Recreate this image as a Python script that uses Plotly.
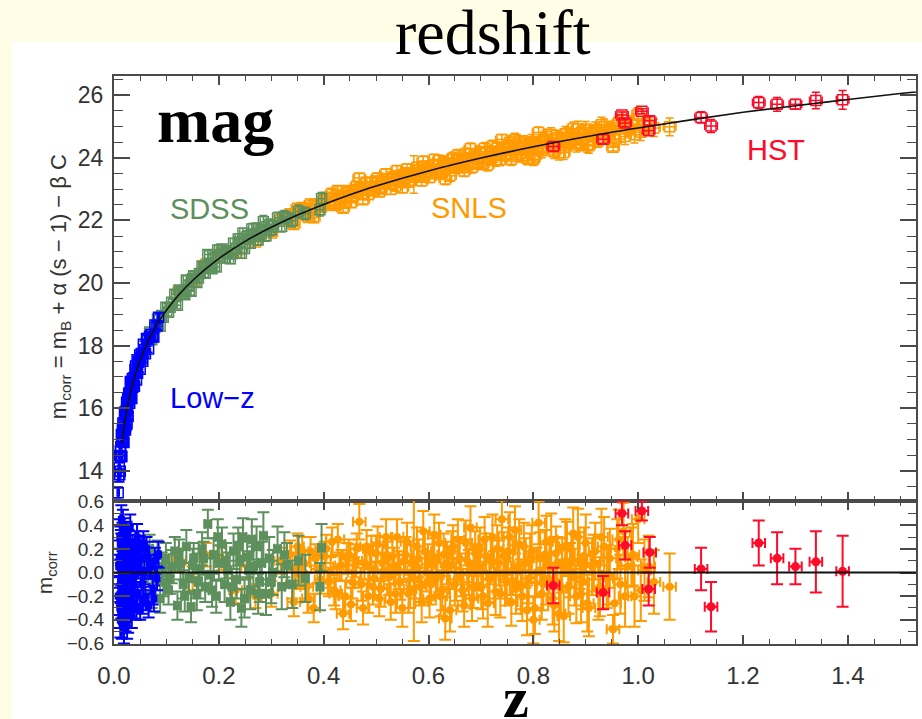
import numpy as np
import plotly.graph_objects as go

# ---------------------------------------------------------------
# Best-fit model curve m_corr(z)
# ---------------------------------------------------------------
model_z = [0.008, 0.009, 0.010, 0.012, 0.015, 0.020, 0.030, 0.040, 0.050, 0.060,
           0.070, 0.080, 0.090, 0.100, 0.125, 0.150, 0.175, 0.200, 0.250, 0.300,
           0.350, 0.400, 0.450, 0.500, 0.600, 0.700, 0.800, 0.900, 1.000, 1.100,
           1.200, 1.300, 1.400, 1.500, 1.600]
model_mag = [13.50, 13.76, 13.99, 14.39, 14.88, 15.51, 16.41, 17.05, 17.55, 17.96,
             18.31, 18.62, 18.89, 19.13, 19.65, 20.08, 20.45, 20.78, 21.33, 21.78,
             22.17, 22.51, 22.82, 23.10, 23.58, 23.99, 24.35, 24.67, 24.95, 25.21,
             25.45, 25.66, 25.86, 26.05, 26.21]
FIT_ZMIN = 0.015

# ---------------------------------------------------------------
# Supernova samples: redshift, Hubble residual, magnitude error
# ---------------------------------------------------------------
lowz_z = [0.009, 0.010, 0.011, 0.012, 0.013, 0.014, 0.015, 0.015, 0.016, 0.017,
          0.018, 0.019, 0.020, 0.021, 0.022, 0.023, 0.024, 0.025, 0.026, 0.027,
          0.028, 0.029, 0.030, 0.031, 0.032, 0.033, 0.034, 0.035, 0.036, 0.038,
          0.039, 0.040, 0.042, 0.044, 0.045, 0.047, 0.049, 0.050, 0.052, 0.054,
          0.056, 0.058, 0.060, 0.063, 0.066, 0.070, 0.074, 0.078, 0.082,
          0.008, 0.011, 0.012, 0.013, 0.014, 0.016, 0.017, 0.018, 0.019, 0.020,
          0.021, 0.022, 0.023, 0.024, 0.025, 0.026, 0.028, 0.030, 0.032, 0.034,
          0.037, 0.041, 0.043, 0.046, 0.051, 0.055, 0.062, 0.068, 0.076, 0.085]
lowz_dm = [0.05, 0.12, -0.30, 0.25, -0.10, 0.45, 0.05, -0.42, 0.30, -0.20,
           0.10, -0.48, 0.35, -0.05, 0.20, -0.33, 0.08, -0.15, 0.28, -0.40,
           0.02, 0.15, -0.25, 0.38, -0.08, 0.10, -0.35, 0.22, -0.12, 0.05,
           -0.28, 0.18, -0.02, 0.30, -0.18, 0.08, 0.20, -0.30, 0.12, -0.10,
           0.25, 0.00, -0.22, 0.15, -0.28, 0.05, -0.15, 0.10, -0.05,
           -0.20, 0.30, -0.40, 0.22, -0.25, -0.05, 0.40, -0.30, 0.15, -0.20,
           0.28, -0.38, 0.12, 0.32, -0.45, -0.02, 0.25, 0.08, -0.20, 0.15,
           -0.10, 0.25, -0.30, 0.12, 0.02, -0.25, 0.20, 0.05, -0.22, 0.15]
lowz_err = [0.15, 0.15, 0.17, 0.14, 0.16, 0.12, 0.15, 0.14, 0.12, 0.13,
            0.14, 0.12, 0.11, 0.13, 0.12, 0.12, 0.11, 0.12, 0.12, 0.11,
            0.12, 0.11, 0.12, 0.11, 0.10, 0.11, 0.12, 0.10, 0.11, 0.10,
            0.11, 0.10, 0.10, 0.11, 0.10, 0.10, 0.11, 0.10, 0.10, 0.11,
            0.10, 0.10, 0.10, 0.11, 0.10, 0.10, 0.12, 0.11, 0.10,
            0.16, 0.15, 0.15, 0.14, 0.14, 0.13, 0.13, 0.13, 0.12, 0.12,
            0.12, 0.12, 0.12, 0.11, 0.11, 0.11, 0.11, 0.11, 0.11, 0.10,
            0.10, 0.10, 0.10, 0.10, 0.10, 0.10, 0.10, 0.10, 0.11, 0.11]

sdss_z = [0.058, 0.065, 0.072, 0.078, 0.083, 0.088, 0.094, 0.099, 0.104, 0.110,
          0.116, 0.121, 0.127, 0.132, 0.138, 0.143, 0.147, 0.152, 0.158, 0.163,
          0.168, 0.174, 0.179, 0.184, 0.190, 0.195, 0.200, 0.206, 0.211, 0.217,
          0.222, 0.228, 0.234, 0.240, 0.246, 0.249, 0.254, 0.260, 0.266, 0.272,
          0.278, 0.285, 0.290, 0.296, 0.303, 0.312, 0.320, 0.330, 0.340, 0.352,
          0.365, 0.393, 0.396,
          0.068, 0.091, 0.107, 0.124, 0.135, 0.150, 0.161, 0.171, 0.187, 0.198,
          0.214, 0.225, 0.237, 0.243, 0.257, 0.263, 0.275, 0.282, 0.300, 0.325]
sdss_dm = [-0.05, 0.10, -0.18, 0.02, 0.15, -0.22, -0.08, 0.12, -0.15, 0.05,
           0.18, -0.28, 0.07, -0.10, 0.22, -0.05, -0.29, 0.12, -0.18, 0.03,
           0.20, -0.12, 0.41, -0.02, 0.15, -0.20, 0.08, 0.24, -0.10, 0.02,
           -0.25, 0.18, -0.06, 0.10, 0.30, -0.22, 0.13, -0.15, 0.05, 0.22,
           -0.08, 0.31, -0.18, 0.12, 0.00, 0.20, -0.12, 0.06, -0.10, 0.10,
           -0.05, -0.12, 0.21,
           0.20, 0.05, -0.05, 0.15, -0.20, 0.06, -0.08, 0.12, -0.15, 0.30,
           0.10, -0.12, 0.22, -0.30, 0.02, 0.28, -0.18, 0.08, -0.08, 0.15]
sdss_err = [0.12, 0.12, 0.12, 0.11, 0.12, 0.12, 0.12, 0.13, 0.12, 0.14,
            0.12, 0.12, 0.13, 0.12, 0.14, 0.13, 0.13, 0.13, 0.14, 0.13,
            0.14, 0.13, 0.12, 0.14, 0.14, 0.14, 0.15, 0.14, 0.15, 0.15,
            0.15, 0.15, 0.16, 0.16, 0.16, 0.16, 0.17, 0.16, 0.17, 0.17,
            0.17, 0.20, 0.18, 0.18, 0.19, 0.19, 0.19, 0.19, 0.20, 0.21,
            0.20, 0.20, 0.20,
            0.12, 0.12, 0.13, 0.13, 0.13, 0.14, 0.14, 0.14, 0.14, 0.15,
            0.15, 0.15, 0.16, 0.16, 0.16, 0.17, 0.17, 0.18, 0.18, 0.19]

snls_z = [0.125, 0.150, 0.175, 0.205, 0.232, 0.255, 0.270, 0.300, 0.318, 0.336,
          0.343, 0.350, 0.356, 0.362, 0.368, 0.375, 0.381, 0.388, 0.402, 0.410,
          0.416, 0.423, 0.430, 0.437, 0.444, 0.452, 0.458, 0.463, 0.468, 0.472,
          0.478, 0.485, 0.491, 0.497, 0.503, 0.509, 0.515, 0.522, 0.528, 0.534,
          0.540, 0.546, 0.550, 0.556, 0.562, 0.567, 0.572, 0.578, 0.584, 0.590,
          0.596, 0.602, 0.608, 0.614, 0.620, 0.626, 0.632, 0.638, 0.644, 0.650,
          0.656, 0.662, 0.668, 0.674, 0.680, 0.686, 0.692, 0.698, 0.704, 0.710,
          0.716, 0.722, 0.728, 0.734, 0.740, 0.746, 0.752, 0.758, 0.765, 0.770,
          0.776, 0.782, 0.788, 0.794, 0.800, 0.806, 0.810, 0.816, 0.822, 0.828,
          0.834, 0.840, 0.846, 0.852, 0.858, 0.864, 0.870, 0.876, 0.882, 0.888,
          0.894, 0.900, 0.906, 0.912, 0.918, 0.924, 0.930, 0.940, 0.946, 0.952,
          0.955, 0.960, 0.966, 0.972, 0.980, 0.987, 0.993, 1.000, 1.012, 1.030,
          1.060,
          0.340, 0.347, 0.359, 0.371, 0.384, 0.395, 0.405, 0.413, 0.420, 0.427,
          0.434, 0.441, 0.448, 0.455, 0.461, 0.475, 0.482, 0.488, 0.494, 0.500,
          0.506, 0.512, 0.519, 0.525, 0.531, 0.537, 0.543, 0.553, 0.559, 0.565,
          0.575, 0.581, 0.587, 0.593, 0.599, 0.605, 0.611, 0.617, 0.623, 0.629,
          0.635, 0.641, 0.647, 0.653, 0.659, 0.665, 0.671, 0.677, 0.683, 0.689,
          0.695, 0.701, 0.707, 0.713, 0.719, 0.725, 0.731, 0.737, 0.743, 0.749,
          0.755, 0.761, 0.767, 0.773, 0.779, 0.785, 0.791, 0.797, 0.803, 0.813,
          0.819, 0.825, 0.831, 0.837, 0.843, 0.849, 0.855, 0.861, 0.867, 0.873,
          0.879, 0.885, 0.891, 0.897, 0.903, 0.915, 0.927, 0.935, 0.943, 0.963,
          0.975, 0.990, 1.005, 1.020]
snls_dm = [0.10, -0.05, 0.15, 0.12, -0.15, 0.05, -0.20, -0.18, 0.10, 0.15,
           -0.25, 0.22, -0.02, 0.08, -0.12, 0.18, -0.30, 0.03, 0.14, -0.08,
           0.26, -0.18, 0.05, -0.35, 0.12, -0.27, 0.00, 0.20, 0.43, -0.10,
           0.08, -0.20, 0.17, -0.05, 0.24, -0.14, 0.02, 0.12, -0.25, 0.06,
           0.30, -0.08, -0.30, 0.15, -0.18, 0.08, 0.02, 0.22, -0.12, 0.35,
           0.00, -0.22, 0.12, -0.05, 0.25, -0.15, -0.39, 0.05, 0.18, -0.10,
           0.28, -0.02, -0.28, 0.10, 0.38, -0.12, 0.04, 0.20, -0.20, 0.14,
           -0.06, 0.30, -0.16, 0.08, 0.45, -0.02, 0.18, -0.25, 0.36, 0.05,
           -0.10, 0.22, -0.32, 0.12, -0.40, 0.00, 0.42, -0.18, 0.15, -0.05,
           0.28, -0.28, 0.08, -0.12, -0.37, 0.20, 0.02, 0.33, -0.20, 0.10,
           -0.08, 0.25, -0.30, 0.05, 0.18, -0.15, 0.30, -0.05, 0.12, -0.48,
           -0.26, 0.20, -0.10, 0.35, 0.05, 0.13, -0.20, 0.45, 0.02, -0.08,
           -0.12,
           -0.10, 0.05, 0.18, -0.22, 0.12, -0.06, 0.20, 0.00, -0.15, 0.28,
           0.06, -0.20, 0.15, -0.08, 0.10, -0.30, 0.22, 0.04, -0.12, 0.16,
           -0.22, 0.08, 0.30, -0.04, 0.14, -0.18, 0.02, 0.10, 0.26, -0.14,
           -0.06, 0.12, -0.25, 0.18, 0.07, -0.10, 0.32, -0.02, -0.20, 0.15,
           0.08, -0.32, 0.22, -0.06, 0.12, -0.15, 0.25, 0.00, -0.22, 0.16,
           0.05, -0.12, 0.28, -0.26, 0.10, -0.02, 0.20, -0.18, 0.14, -0.08,
           0.30, 0.02, -0.14, 0.24, -0.20, 0.08, -0.05, 0.18, -0.30, 0.12,
           -0.10, 0.26, 0.04, -0.22, 0.16, -0.35, 0.06, 0.22, -0.12, 0.10,
           -0.04, 0.30, -0.18, 0.14, -0.26, 0.08, -0.12, 0.22, -0.02, 0.28,
           -0.20, 0.15, -0.15, 0.05]
snls_err = [0.10, 0.10, 0.10, 0.10, 0.11, 0.10, 0.10, 0.11, 0.11, 0.12,
            0.12, 0.11, 0.12, 0.11, 0.12, 0.12, 0.12, 0.12, 0.12, 0.12,
            0.12, 0.13, 0.12, 0.13, 0.13, 0.14, 0.13, 0.13, 0.15, 0.14,
            0.14, 0.14, 0.14, 0.14, 0.15, 0.15, 0.15, 0.14, 0.15, 0.15,
            0.15, 0.15, 0.16, 0.15, 0.16, 0.15, 0.60, 0.16, 0.16, 0.17,
            0.16, 0.16, 0.17, 0.16, 0.17, 0.17, 0.18, 0.17, 0.17, 0.18,
            0.17, 0.18, 0.18, 0.18, 0.18, 0.18, 0.19, 0.18, 0.19, 0.19,
            0.19, 0.19, 0.20, 0.19, 0.16, 0.20, 0.20, 0.20, 0.20, 0.20,
            0.21, 0.20, 0.21, 0.21, 0.20, 0.21, 0.18, 0.22, 0.21, 0.22,
            0.22, 0.22, 0.22, 0.23, 0.22, 0.23, 0.23, 0.22, 0.23, 0.24,
            0.23, 0.24, 0.24, 0.24, 0.24, 0.25, 0.24, 0.25, 0.25, 0.12,
            0.20, 0.25, 0.25, 0.24, 0.25, 0.25, 0.26, 0.20, 0.26, 0.27,
            0.28,
            0.12, 0.12, 0.12, 0.12, 0.12, 0.12, 0.12, 0.13, 0.13, 0.13,
            0.13, 0.13, 0.13, 0.14, 0.14, 0.14, 0.14, 0.14, 0.15, 0.15,
            0.15, 0.15, 0.15, 0.15, 0.15, 0.16, 0.16, 0.16, 0.16, 0.16,
            0.16, 0.16, 0.17, 0.17, 0.17, 0.17, 0.17, 0.17, 0.17, 0.18,
            0.18, 0.18, 0.18, 0.18, 0.18, 0.18, 0.19, 0.19, 0.19, 0.19,
            0.19, 0.19, 0.19, 0.20, 0.20, 0.20, 0.20, 0.20, 0.20, 0.20,
            0.21, 0.21, 0.21, 0.21, 0.21, 0.21, 0.21, 0.22, 0.22, 0.22,
            0.22, 0.22, 0.22, 0.22, 0.23, 0.23, 0.23, 0.23, 0.23, 0.23,
            0.24, 0.24, 0.24, 0.24, 0.24, 0.24, 0.25, 0.25, 0.25, 0.25,
            0.26, 0.26, 0.26, 0.26]

hst_z = [0.838, 0.933, 0.969, 0.975, 1.007, 1.022, 1.020, 1.120, 1.139, 1.230,
         1.265, 1.300, 1.339, 1.390]
hst_dm = [-0.11, -0.17, 0.50, 0.23, 0.52, 0.17, -0.14, 0.03, -0.29, 0.25,
          0.12, 0.05, 0.09, 0.01]
hst_err = [0.15, 0.14, 0.10, 0.12, 0.08, 0.13, 0.14, 0.18, 0.21, 0.19,
           0.22, 0.15, 0.26, 0.30]

# redshift uncertainties per sample
LOWZ_ZERR, SDSS_ZERR, SNLS_ZERR, HST_ZERR = 0.002, 0.006, 0.012, 0.012

# ---------------------------------------------------------------
# Styling
# ---------------------------------------------------------------
W, H = 922, 719
ML, MR, MT, MB = 114, 4, 76, 75
PLOT_W, PLOT_H = W - ML - MR, H - MT - MB
SPLIT = (644 - 501) / PLOT_H          # bottom/top panel boundary (paper)

SANS = "Liberation Sans, Arial, sans-serif"
SERIF = "Liberation Serif, Times New Roman, serif"
AXIS_COL = "#4a4a4a"
TEXT_COL = "#333333"

samples = [
    # name, z, dm, err, zerr, colour, lower-panel symbol, size
    ("SNLS", snls_z, snls_dm, snls_err, SNLS_ZERR, "#ff9a00", "circle", 8),
    ("SDSS", sdss_z, sdss_dm, sdss_err, SDSS_ZERR, "#5d905d", "square", 9),
    ("Low-z", lowz_z, lowz_dm, lowz_err, LOWZ_ZERR, "#0000ff", "square", 7),
    ("HST", hst_z, hst_dm, hst_err, HST_ZERR, "#ff0a28", "circle", 9),
]


def px(x):
    return (x - ML) / PLOT_W


def py(y):
    return (H - MB - y) / PLOT_H


fig = go.Figure()

mz = np.array(model_z)
mm = np.array(model_mag)

for name, z, dm, err, zerr, col, sym, size in samples:
    z = np.array(z)
    dm = np.array(dm)
    mag = np.interp(z, mz, mm) + dm          # corrected magnitude = model + residual
    # upper panel: open squares with error bars
    fig.add_trace(go.Scatter(
        x=z, y=mag, mode="markers", name=name, xaxis="x", yaxis="y",
        marker=dict(symbol="square-open", size=10, color=col, line=dict(width=1.5, color=col)),
        error_y=dict(type="data", array=err, color=col, thickness=1.5, width=4),
        error_x=dict(type="data", array=[zerr] * len(z), color=col, thickness=1.5, width=4),
        showlegend=False, hoverinfo="skip"))
    # lower panel: filled markers with error bars
    fig.add_trace(go.Scatter(
        x=z, y=dm, mode="markers", name=name, xaxis="x2", yaxis="y2",
        marker=dict(symbol=sym, size=size, color=col),
        error_y=dict(type="data", array=err, color=col, thickness=2, width=6),
        error_x=dict(type="data", array=[zerr] * len(z), color=col, thickness=2, width=5),
        showlegend=False, hoverinfo="skip"))

# best-fit curve on top of the points
fit = mz >= FIT_ZMIN
fig.add_trace(go.Scatter(
    x=mz[fit], y=mm[fit], mode="lines", xaxis="x", yaxis="y",
    line=dict(color="#111111", width=1.6, shape="spline"),
    showlegend=False, hoverinfo="skip"))

# zero line in the residual panel
fig.add_shape(type="line", xref="x2 domain", yref="y2", x0=0, x1=1, y0=0, y1=0,
              line=dict(color="#111111", width=1.8))

# white slide panel behind the chart
fig.add_shape(type="rect", xref="paper", yref="paper", layer="below",
              x0=px(12), x1=px(W + 5), y0=py(H + 5), y1=py(42),
              fillcolor="white", line=dict(width=0))

common_x = dict(range=[0, 1.53], dtick=0.2, tick0=0, ticks="inside", ticklen=9,
                tickwidth=1.6, tickcolor=AXIS_COL, showline=True, linewidth=2,
                linecolor=AXIS_COL, mirror="ticks", showgrid=False, zeroline=False,
                minor=dict(dtick=0.05, ticks="inside", ticklen=5, tickwidth=1.3,
                           tickcolor=AXIS_COL))

fig.update_layout(
    width=W, height=H,
    margin=dict(l=ML, r=MR, t=MT, b=MB),
    paper_bgcolor="#fffde6", plot_bgcolor="white",
    xaxis=dict(common_x, domain=[0, 1], anchor="y", showticklabels=False, matches="x2"),
    xaxis2=dict(common_x, domain=[0, 1], anchor="y2", showticklabels=True,
                tickformat=".1f", ticklabelstandoff=9,
                tickfont=dict(family=SANS, size=24, color=TEXT_COL)),
    yaxis=dict(domain=[SPLIT, 1], anchor="x", range=[13.04, 26.61], dtick=2, tick0=0,
               ticks="inside", ticklen=16, tickwidth=1.6, tickcolor=AXIS_COL,
               showline=True, linewidth=2, linecolor=AXIS_COL, mirror="ticks",
               showgrid=False, zeroline=False, ticklabelstandoff=4,
               tickfont=dict(family=SANS, size=23, color=TEXT_COL),
               minor=dict(dtick=0.5, ticks="inside", ticklen=9, tickwidth=1.3,
                          tickcolor=AXIS_COL)),
    yaxis2=dict(domain=[0, SPLIT], anchor="x2", range=[-0.605, 0.605], dtick=0.2, tick0=0,
                tickformat=".1f",
                ticks="inside", ticklen=16, tickwidth=1.6, tickcolor=AXIS_COL,
                showline=True, linewidth=2, linecolor=AXIS_COL, mirror="ticks",
                showgrid=False, zeroline=False, ticklabelstandoff=4,
                tickfont=dict(family=SANS, size=19, color=TEXT_COL),
                minor=dict(dtick=0.1, ticks="inside", ticklen=8, tickwidth=1.3,
                           tickcolor=AXIS_COL)),
)

annotations = [
    # slide title and large labels
    dict(text="redshift", x=px(494), y=py(33), xanchor="center", yanchor="middle",
         font=dict(family=SERIF, size=64, color="black")),
    dict(text="<b>mag</b>", x=px(155), y=py(121), xanchor="left", yanchor="middle",
         font=dict(family=SERIF, size=64, color="black")),
    dict(text="<b>z</b>", x=px(517), y=py(697), xanchor="center", yanchor="middle",
         font=dict(family=SERIF, size=58, color="black")),
    # axis titles
    dict(text="m<sub>corr</sub> = m<sub>B</sub> + \u03b1 (s \u2212 1) \u2212 \u03b2 C",
         x=px(60), y=py(287), xanchor="center", yanchor="middle", textangle=-90,
         font=dict(family=SANS, size=22, color=TEXT_COL)),
    dict(text="m<sub>corr</sub>", x=px(46), y=py(573), xanchor="center", yanchor="middle",
         textangle=-90, font=dict(family=SANS, size=21, color=TEXT_COL)),
    # sample labels
    dict(text="SDSS", x=px(168), y=py(209), xanchor="left", yanchor="middle",
         font=dict(family=SANS, size=29, color="#5d905d")),
    dict(text="SNLS", x=px(430), y=py(208), xanchor="left", yanchor="middle",
         font=dict(family=SANS, size=29, color="#ff9a00")),
    dict(text="HST", x=px(747), y=py(150), xanchor="left", yanchor="middle",
         font=dict(family=SANS, size=29, color="#ff0a28")),
    dict(text="Low\u2212z", x=px(168), y=py(398), xanchor="left", yanchor="middle",
         font=dict(family=SANS, size=29, color="#0000ff")),
]
for a in annotations:
    a.update(xref="paper", yref="paper", showarrow=False)
fig.update_layout(annotations=annotations)

fig.write_html("out.html")
